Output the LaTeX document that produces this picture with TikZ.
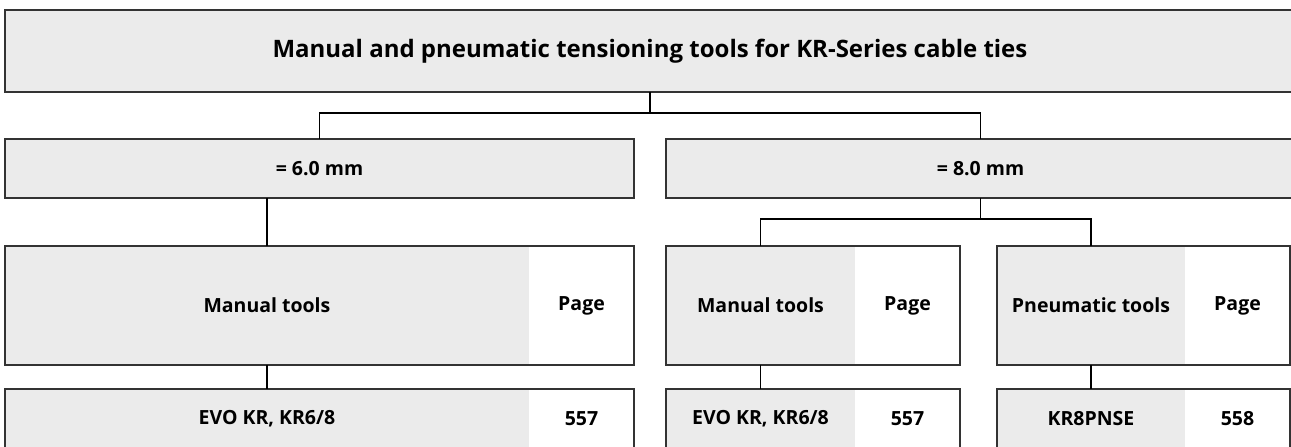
\documentclass[tikz,border=0pt]{standalone}
\usepackage{fontspec}
\setmainfont{Open Sans}
\usepackage{tikz}
\usetikzlibrary{positioning}
\definecolor{boxgrey}{RGB}{235,235,235}
\tikzstyle{box} = [rectangle, anchor=north west, inner sep=0pt, outer sep=0pt,
    fill=boxgrey, text centered, font=\bfseries\fontsize{19.5}{23}\selectfont]
\tikzstyle{titlebox} = [box, draw=black!80, line width=1.3pt,
    font=\bfseries\fontsize{24}{28}\selectfont]
\tikzstyle{sizebox} = [box, draw=black!80, line width=1.3pt]
\tikzstyle{toolcell} = [box]
\tikzstyle{pagecell} = [box, fill=white]
\tikzstyle{frame} = [draw=black!80, line width=1.3pt]
\tikzstyle{link} = [line width=1.6pt, black]

\begin{document}
\begin{tikzpicture}[x=1pt, y=-1pt]
            \useasboundingbox (0,0) rectangle (1291,447);
            \fill[white] (0,0) rectangle (1291,447);
            \clip (0,0) rectangle (1291,447);
            % Title and sizes
            \node[titlebox, minimum width=1290pt, minimum height=82pt] (title) at (5,10)
            {Manual and pneumatic tensioning tools for KR-Series cable ties};
            \node[sizebox, minimum width=629pt, minimum height=59pt] (small) at (5,139) {= 6.0 mm};
            \node[sizebox, minimum width=629pt, minimum height=59pt] (large) at (666,139) {= 8.0 mm};
            % Tool headers
            \node[toolcell, minimum width=524pt, minimum height=119pt] (manA) at (5,246) {Manual tools};
            \node[pagecell, right=0pt of manA, minimum width=105pt, minimum height=119pt] (manApage) {Page};
            \node[toolcell, minimum width=189pt, minimum height=119pt] (manB) at (666,246) {Manual tools};
            \node[pagecell, right=0pt of manB, minimum width=105pt, minimum height=119pt] (manBpage) {Page};
            \node[toolcell, minimum width=188pt, minimum height=119pt] (pneuB) at (997,246) {Pneumatic tools};
            \node[pagecell, right=0pt of pneuB, minimum width=105pt, minimum height=119pt] (pneuBpage) {Page};
            % Products
            \node[toolcell, minimum width=524pt, minimum height=60pt] (evoA) at (5,389) {EVO KR, KR6/8};
            \node[pagecell, right=0pt of evoA, minimum width=105pt, minimum height=60pt] (evoApage) {557};
            \node[toolcell, minimum width=189pt, minimum height=60pt] (evoB) at (666,389) {EVO KR, KR6/8};
            \node[pagecell, right=0pt of evoB, minimum width=105pt, minimum height=60pt] (evoBpage) {557};
            \node[toolcell, minimum width=188pt, minimum height=60pt] (pnse) at (997,389) {KR8PNSE};
            \node[pagecell, right=0pt of pnse, minimum width=105pt, minimum height=60pt] (pnsepage) {558};
            % Frames
            \draw[frame] (manA.north west) rectangle (manApage.south east);
            \draw[frame] (manB.north west) rectangle (manBpage.south east);
            \draw[frame] (pneuB.north west) rectangle (pneuBpage.south east);
            \draw[frame] (evoA.north west) rectangle (evoApage.south east);
            \draw[frame] (evoB.north west) rectangle (evoBpage.south east);
            \draw[frame] (pnse.north west) rectangle (pnsepage.south east);
            % Connectors
            \draw[link] (title.south) -- ++(0,21) coordinate (split1);
            \draw[link] (small.north) |- (split1) -| (large.north);
            \draw[link] (manA.north) -- (manA.north |- small.south);
            \draw[link] (large.south) -- ++(0,21) coordinate (split2);
            \draw[link] (manB.north) |- (split2) -| (pneuB.north);
            \draw[link] (manA.south) -- (evoA.north);
            \draw[link] (manB.south) -- (evoB.north);
            \draw[link] (pneuB.south) -- (pnse.north);
        \end{tikzpicture}
\end{document}
